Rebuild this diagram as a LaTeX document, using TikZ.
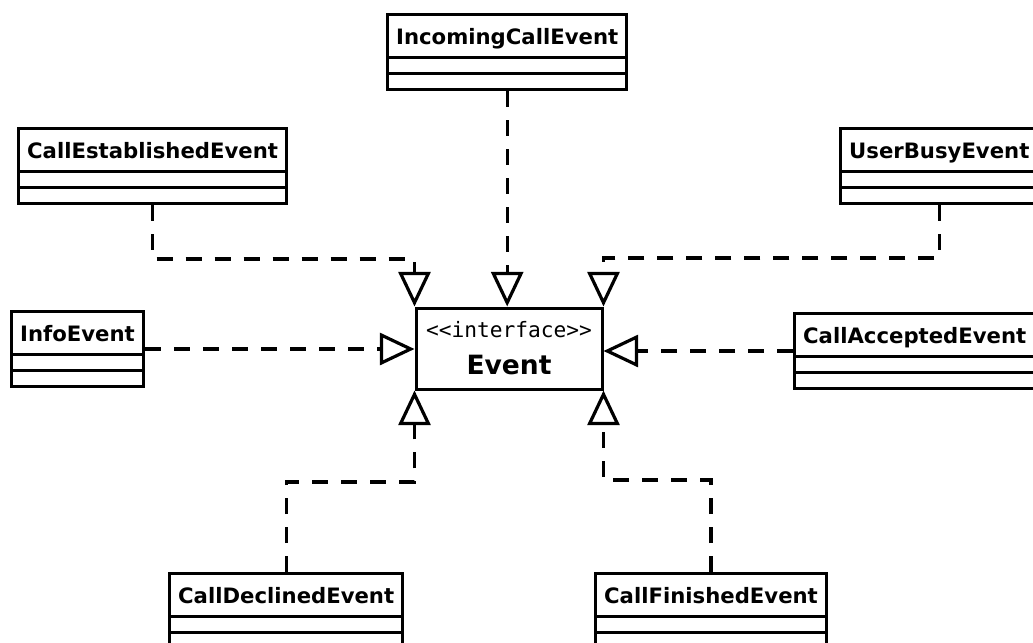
\documentclass[tikz,border=0pt]{standalone}
\usepackage{fontspec}
\setmainfont{DejaVu Sans}
\setmonofont{DejaVu Sans Mono}
\usetikzlibrary{arrows.meta,shapes.multipart}
\tikzset{
  umlclass/.style={rectangle split, rectangle split parts=3, draw, line width=2.25pt,
    anchor=north west, inner xsep=6.5pt, inner ysep=0pt,
    font=\fontsize{15.9}{19}\selectfont\bfseries},
  umliface/.style={draw, line width=2.25pt, minimum width=139.5pt, minimum height=60.75pt,
    align=center, inner sep=0pt, font=\fontsize{15.9}{27.75}\selectfont},
  realize/.style={line width=2.4pt, dash pattern=on 12pt off 9.75pt,
    -{Triangle[open,length=26pt,width=24pt]}}
}
\newcommand{\titlestrut}{\rule[-9pt]{0pt}{30pt}}
\newcommand{\slotstrut}{\rule{0pt}{9.75pt}}
\begin{document}
\begin{tikzpicture}[x=0.75pt,y=-0.75pt]
      \path[use as bounding box,clip] (0,0) rectangle (1033,643);
      \draw
        (509,348.5) node[umliface] (Event){{\ttfamily <<interface>>}\\{\bfseries\fontsize{19.9}{27.75}\selectfont Event}}
        (386,13) node[umlclass] (IncomingCallEvent){\titlestrut IncomingCallEvent\nodepart{two}\slotstrut\nodepart{three}\slotstrut}
        (17,127) node[umlclass] (CallEstablishedEvent){\titlestrut CallEstablishedEvent\nodepart{two}\slotstrut\nodepart{three}\slotstrut}
        (839,127) node[umlclass] (UserBusyEvent){\titlestrut UserBusyEvent\nodepart{two}\slotstrut\nodepart{three}\slotstrut}
        (10,310) node[umlclass] (InfoEvent){\titlestrut InfoEvent\nodepart{two}\slotstrut\nodepart{three}\slotstrut}
        (793,312) node[umlclass] (CallAcceptedEvent){\titlestrut CallAcceptedEvent\nodepart{two}\slotstrut\nodepart{three}\slotstrut}
        (168,572) node[umlclass] (CallDeclinedEvent){\titlestrut CallDeclinedEvent\nodepart{two}\slotstrut\nodepart{three}\slotstrut}
        (594,572) node[umlclass] (CallFinishedEvent){\titlestrut CallFinishedEvent\nodepart{two}\slotstrut\nodepart{three}\slotstrut};
      \begin{scope}[realize]
        \draw (IncomingCallEvent.south) -- (IncomingCallEvent.south |- Event.north);
        \draw (CallEstablishedEvent.south) -- ++(0,54) -| (Event.north west);
        \draw (UserBusyEvent.south) -- ++(0,53) -| (Event.north east);
        \draw (InfoEvent.east) -- (InfoEvent.east -| Event.west);
        \draw (CallAcceptedEvent.west) -- (CallAcceptedEvent.west -| Event.east);
        \draw (CallDeclinedEvent.north) -- ++(0,-90) -| (Event.south west);
        \draw (CallFinishedEvent.north) -- ++(0,-92) -| (Event.south east);
      \end{scope}
    \end{tikzpicture}
\end{document}
